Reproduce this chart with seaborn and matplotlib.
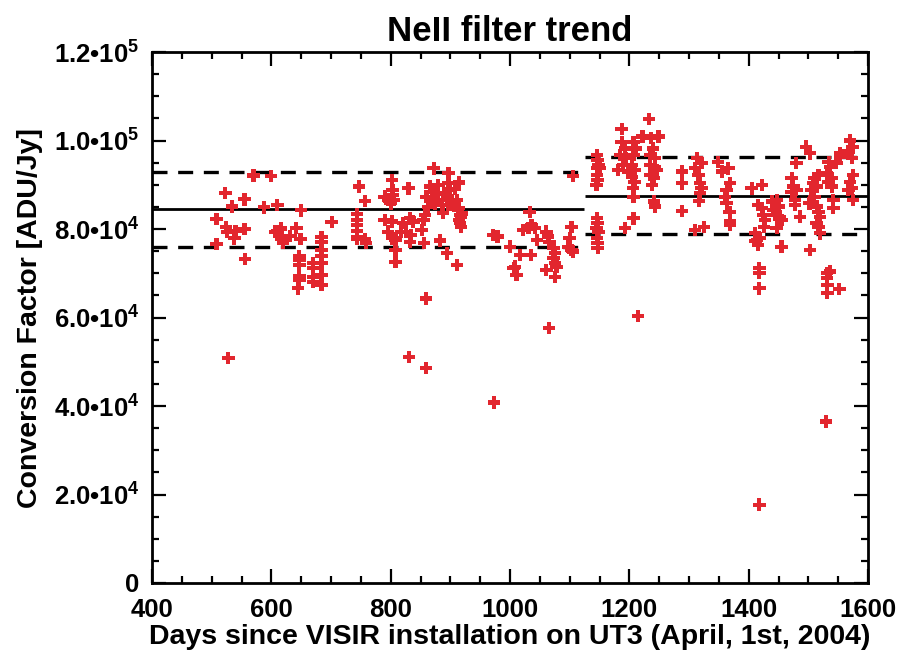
import numpy as np
import pandas as pd
import matplotlib
matplotlib.use("Agg")
import matplotlib.pyplot as plt
import seaborn as sns
from matplotlib.ticker import MultipleLocator, FixedLocator

# ---- data (days since installation, conversion factor in units of 1e3 ADU/Jy) ----
days = [
    508, 508, 523, 524, 526, 528, 534, 538, 540, 555, 555, 556, 570, 588, 599, 606,
    610, 616, 610, 617, 620, 632, 642, 649, 650, 647, 647, 647, 647, 647, 645,
    670, 670, 670, 670,
    684, 684, 684, 684, 684, 684, 684,
    701, 744, 744, 744, 744, 744, 744,
    747, 757, 757, 759,
    790, 796, 802, 803, 804, 805, 800, 790, 796, 802, 803,
    808, 808, 808,
    818, 821, 826, 830, 832, 838, 834, 832, 831,
    855, 858, 852, 856, 859, 859,
    860, 866, 869, 871, 872, 874, 877, 880, 883, 886, 888,
    894, 894, 897, 897, 897, 899, 902, 905,
    911, 911, 913, 915, 915, 916, 915, 918, 916, 918,
    880, 890, 920, 908, 863,
    972, 979, 973, 1000, 1006, 1008, 1011, 1017, 1022, 1031, 1033, 1035, 1036, 1042, 1045,
    1061, 1064, 1066, 1061, 1065, 1073, 1075, 1073, 1075, 1078, 1075,
    1098, 1100, 1103, 1103, 1106, 1106,
    1146, 1147, 1148, 1146, 1150, 1146, 1147, 1145,
    1146, 1147, 1145, 1148, 1146, 1147, 1147,
    1181, 1184, 1187, 1187, 1190, 1193, 1193, 1195, 1198, 1204, 1207, 1215,
    1204, 1207, 1207, 1209, 1209, 1206, 1207, 1211,
    1222, 1233, 1235, 1235, 1235, 1237, 1238, 1240, 1241, 1241, 1243, 1243, 1243, 1246, 1249,
    1288, 1288, 1288,
    1310, 1310, 1313, 1316, 1317, 1318, 1318, 1321, 1321, 1325,
    1349, 1355, 1360, 1363, 1363, 1366, 1368, 1369, 1369, 1369,
    1405, 1411, 1411, 1414, 1416, 1419, 1416, 1422, 1422, 1424, 1427, 1426, 1418, 1418, 1418, 1418,
    1439, 1441, 1444, 1447, 1447, 1450, 1452, 1455, 1455,
    1472, 1475, 1472, 1478, 1478, 1480, 1480, 1486, 1496, 1503, 1503,
    1502, 1505, 1508, 1510, 1510, 1514, 1514, 1514, 1517, 1517, 1517, 1520, 1520,
    1531, 1534, 1534, 1536, 1539, 1539, 1542, 1542, 1547, 1553, 1553,
    1531, 1536, 1531, 1532, 1532, 1552, 1530,
    1567, 1570, 1573, 1575, 1567, 1570, 1573, 1575, 1575,
]
factor_k = [
    82.3, 76.6, 88.1, 80.4, 79.4, 50.9, 85.1, 77.9, 79.6, 86.7, 80.0, 73.2, 92.1, 84.9, 92.0, 79.4,
    85.4, 80.1, 79.6, 77.7, 76.8, 78.4, 80.2, 77.7, 84.2, 73.9, 73.0, 71.9, 69.4, 68.5, 66.6,
    72.3, 71.1, 69.2, 68.1,
    78.1, 77.1, 75.3, 73.9, 72.4, 69.6, 67.4,
    81.6, 83.4, 82.0, 80.9, 79.6, 78.1, 77.7,
    89.6, 86.3, 77.7, 76.8,
    87.3, 86.6, 91.1, 88.8, 87.7, 86.6, 85.8, 82.0, 79.4, 81.7, 77.9,
    77.5, 75.3, 72.6,
    79.4, 81.3, 79.4, 89.2, 82.4, 81.7, 78.7, 77.1, 51.1,
    82.0, 83.2, 79.8, 76.8, 64.3, 48.6,
    87.3, 89.6, 86.9, 88.4, 93.7, 85.8, 88.1, 86.6, 77.4, 85.4, 83.6,
    87.3, 74.5, 90.3, 92.7, 85.4, 88.8, 86.6, 85.4,
    86.6, 71.9, 84.3, 90.5, 84.7, 83.2, 82.0, 82.8, 81.3, 80.5,
    90.0, 88.0, 83.5, 89.0, 85.0,
    78.7, 78.3, 40.8, 76.0, 71.1, 71.5, 69.6, 74.1, 79.8, 80.2, 83.9, 74.1, 80.9, 80.2, 77.5,
    79.4, 78.3, 77.1, 70.7, 57.6, 75.7, 74.5, 73.4, 72.3, 71.5, 69.2,
    76.0, 77.9, 80.5, 75.3, 74.9, 92.0,
    96.7, 95.6, 94.5, 93.7, 93.7, 92.2, 91.1, 90.0,
    82.4, 81.3, 80.2, 79.4, 77.9, 76.8, 75.7,
    93.3, 96.7, 102.6, 99.7, 94.5, 98.2, 80.2, 96.0, 93.0, 91.8, 82.4, 60.3,
    94.5, 99.7, 96.7, 93.3, 90.7, 89.2, 87.3, 98.2,
    100.9, 104.9, 94.5, 92.2, 96.7, 100.5, 90.0, 98.2, 91.5, 86.2, 96.0, 94.1, 85.1, 93.3, 100.9,
    93.0, 90.3, 84.1,
    93.7, 79.8, 96.0, 92.2, 86.3, 90.3, 88.1, 94.9, 89.2, 80.5,
    95.2, 93.0, 87.3, 88.8, 85.8, 93.7, 83.9, 90.3, 81.7, 80.9,
    89.2, 77.3, 79.0, 77.5, 76.4, 77.9, 85.4, 84.7, 90.0, 83.2, 82.0, 80.5, 71.1, 70.0, 66.6, 17.7,
    86.2, 84.3, 83.2, 86.6, 80.2, 85.1, 82.8, 82.0, 76.0,
    91.5, 89.6, 88.4, 86.6, 85.4, 88.8, 94.9, 82.8, 98.6, 97.1, 75.3,
    85.8, 88.8, 90.3, 91.5, 87.3, 89.6, 85.1, 81.3, 92.2, 83.9, 80.5, 82.8, 79.0,
    92.6, 95.2, 90.7, 94.1, 91.5, 89.6, 86.6, 84.7, 94.9, 96.4, 97.1,
    70.0, 70.4, 68.9, 67.4, 65.5, 66.4, 36.5,
    97.5, 100.0, 96.0, 98.6, 88.8, 90.7, 89.2, 92.2, 86.6,
]

# trend segments: mean and +/- scatter band for the two periods
seg_start = [400, 1126]
seg_end = [1124, 1600]
seg_mean = [84450, 87530]
seg_upper = [92800, 96350]
seg_lower = [76000, 78800]

x_ticks = [400, 600, 800, 1000, 1200, 1400, 1600]
y_ticks = [0, 20000, 40000, 60000, 80000, 100000, 120000]
y_tick_labels = ["0", "2.0\u202210$^{4}$", "4.0\u202210$^{4}$", "6.0\u202210$^{4}$",
                 "8.0\u202210$^{4}$", "1.0\u202210$^{5}$", "1.2\u202210$^{5}$"]

title = "NeII filter trend"
xlabel = "Days since VISIR installation on UT3 (April, 1st, 2004)"
ylabel = "Conversion Factor [ADU/Jy]"

# ---- styling ----
sns.set_theme(style="white")
fam = ["Liberation Sans", "DejaVu Sans"]
plt.rcParams["font.family"] = fam
plt.rcParams["font.weight"] = "bold"
plt.rcParams["text.color"] = "black"
plt.rcParams["axes.labelcolor"] = "black"
plt.rcParams["xtick.color"] = "black"
plt.rcParams["ytick.color"] = "black"
plt.rcParams["mathtext.fontset"] = "custom"
plt.rcParams["mathtext.rm"] = "Liberation Sans:bold"
plt.rcParams["mathtext.it"] = "Liberation Sans:bold"
plt.rcParams["mathtext.bf"] = "Liberation Sans:bold"

df = pd.DataFrame({"day": days, "factor": np.array(factor_k) * 1000.0})

fig = plt.figure(figsize=(9.02, 6.55), dpi=100)
ax = fig.add_axes([152 / 902, 1 - 583 / 655, (868 - 152) / 902, (583 - 52) / 655])

sns.scatterplot(data=df, x="day", y="factor", ax=ax, marker="P", s=80,
                color="#e2262e", edgecolor="none", linewidth=0, zorder=3, legend=False)

ax.hlines(seg_mean, seg_start, seg_end, colors="black", linewidth=2.0, zorder=2)
ax.hlines(seg_upper, seg_start, seg_end, colors="black", linewidth=2.4,
          linestyles=(0, (4.5, 3.2)), zorder=2)
ax.hlines(seg_lower, seg_start, seg_end, colors="black", linewidth=2.4,
          linestyles=(0, (4.5, 3.2)), zorder=2)

ax.set_xlim(400, 1600)
ax.set_ylim(0, 120000)
ax.xaxis.set_major_locator(FixedLocator(x_ticks))
ax.xaxis.set_minor_locator(MultipleLocator(50))
ax.yaxis.set_major_locator(FixedLocator(y_ticks))
ax.yaxis.set_minor_locator(MultipleLocator(5000))
ax.set_xticklabels([str(t) for t in x_ticks])
ax.set_yticklabels(y_tick_labels)

ax.tick_params(which="both", direction="in", top=True, right=True, bottom=True, left=True,
               colors="black", labelcolor="black", width=1.6)
ax.tick_params(which="major", length=10, labelsize=18.5)
ax.tick_params(axis="x", which="major", pad=11)
ax.tick_params(axis="y", which="major", pad=9)
ax.tick_params(which="minor", length=5)
for lab in ax.get_xticklabels() + ax.get_yticklabels():
    lab.set_fontweight("bold")
    lab.set_color("black")

for sp in ax.spines.values():
    sp.set_visible(True)
    sp.set_color("black")
    sp.set_linewidth(2.0)

ax.set_xlabel(xlabel, fontsize=20.5, fontweight="bold", labelpad=1, color="black")
ax.set_ylabel(ylabel, fontsize=20.5, fontweight="bold", labelpad=8, color="black")
ax.set_title(title, fontsize=25, fontweight="bold", pad=8, color="black")
ax.grid(False)

fig.savefig("out.png", dpi=100, facecolor="white")
